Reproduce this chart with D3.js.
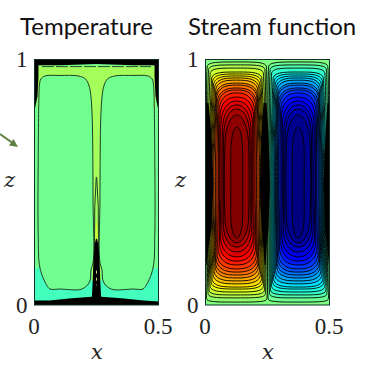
<!doctype html>
<html lang="en">
<head>
    <title>Temperature and stream function</title>
    <script src="https://d3js.org/d3.v7.min.js"></script>
    <style>
        body { margin: 0; background: #fff; }
        svg { display: block; }
    </style>
</head>
<body>
    <script>
        // Axis ticks and titles
        const xTicks = [0, 0.5];
        const zTicks = [0, 1];
        const titles = ["Temperature", "Stream function"];

        // Jet colour map
        const jetStops = [-1, -0.75, -0.25, 0, 0.25, 0.75, 1];
        const jetColors = ["#000080", "#0000ff", "#00ffff", "#80ff80", "#ffff00", "#ff0000", "#800000"];

        // Stream function contours, outermost to innermost
        const psiLevels = [0.04, 0.09, 0.15, 0.2, 0.26, 0.31, 0.37, 0.42, 0.48, 0.53, 0.59, 0.64, 0.7, 0.75, 0.81, 0.86, 0.92, 0.97, 1];
        const psiTop = [0.990, 0.978, 0.965, 0.949, 0.941, 0.933, 0.925, 0.916, 0.904, 0.896, 0.884, 0.876, 0.864, 0.847, 0.831, 0.815, 0.798, 0.774, 0.725];
        const psiBottom = [0.012, 0.029, 0.041, 0.053, 0.065, 0.073, 0.086, 0.098, 0.110, 0.122, 0.134, 0.147, 0.163, 0.179, 0.196, 0.216, 0.236, 0.253, 0.273];
        const psiWaistLeft = [0.122, 0.119, 0.116, 0.112, 0.109, 0.106, 0.103, 0.100, 0.096, 0.092, 0.086, 0.080, 0.074, 0.069, 0.064, 0.059, 0.054, 0.050, 0.024];
        const psiWaistRight = [0.122, 0.118, 0.114, 0.110, 0.106, 0.102, 0.098, 0.095, 0.092, 0.088, 0.084, 0.080, 0.074, 0.069, 0.064, 0.059, 0.054, 0.050, 0.024];
        const psiWidthTop = [0.120, 0.114, 0.108, 0.102, 0.098, 0.094, 0.090, 0.086, 0.084, 0.082, 0.080, 0.076, 0.072, 0.068, 0.064, 0.058, 0.053, 0.048, 0.024];
        const psiWidthBottom = [0.122, 0.116, 0.112, 0.108, 0.104, 0.100, 0.096, 0.092, 0.088, 0.086, 0.084, 0.080, 0.076, 0.070, 0.066, 0.060, 0.054, 0.048, 0.024];
        const psiCapTop = [0.03, 0.03, 0.035, 0.04, 0.045, 0.05, 0.055, 0.06, 0.065, 0.07, 0.075, 0.08, 0.085, 0.09, 0.10, 0.11, 0.12, 0.13, 0.10];
        const psiCapBottom = [0.02, 0.025, 0.03, 0.035, 0.04, 0.045, 0.05, 0.055, 0.06, 0.065, 0.07, 0.075, 0.08, 0.085, 0.09, 0.095, 0.10, 0.11, 0.09];
        const psiRound = [4, 4, 4, 3.6, 3.4, 3.2, 3, 3, 2.8, 2.8, 2.6, 2.6, 2.4, 2.4, 2.2, 2.2, 2.2, 2, 2];
        const psiCentres = [0.126, 0.374];
        // Where the sides settle to the waist width between the two caps
        const psiSideSteps = [0.62, 0.5, 0.38];
        // Black strips where the contours crowd together at the waist
        const psiStripZ = [0.823, 0.70, 0.49, 0.314, 0.232, 0.163];
        const psiStripLeft = [0.012, 0.024, 0.032, 0.024, 0.012, 0.004];
        const psiStripCentre = [0.006, 0.014, 0.020, 0.014, 0.006, 0.002];
        const psiStripRight = [0.008, 0.016, 0.024, 0.018, 0.008, 0.002];

        // Temperature: main contour of the left cell (the right cell mirrors it)
        const tempCellX = [0.018, 0.020, 0.026, 0.043, 0.103, 0.176, 0.205, 0.219, 0.227, 0.233, 0.235, 0.236, 0.237, 0.228, 0.222, 0.191, 0.103, 0.063, 0.049, 0.022, 0.015, 0.015];
        const tempCellZ = [0.855, 0.896, 0.921, 0.933, 0.935, 0.933, 0.921, 0.896, 0.855, 0.754, 0.631, 0.428, 0.180, 0.143, 0.094, 0.065, 0.065, 0.065, 0.081, 0.151, 0.285, 0.600];

        // Temperature: plume under the top boundary
        const plumeX = [0.012, 0.488, 0.488, 0.27, 0.27, 0.23, 0.23, 0.012];
        const plumeZ = [0.975, 0.975, 0.80, 0.80, 0.10, 0.10, 0.80, 0.80];
        // Black boundary layers: thickness against x, half width against z
        const topLayerX = [0, 0.02, 0.1, 0.25, 0.4, 0.48, 0.5];
        const topLayerZ = [0.975, 0.977, 0.977, 0.982, 0.977, 0.977, 0.975];
        const sideLayerZ = [1, 0.93, 0.85, 0.80];
        const sideLayerW = [0.016, 0.016, 0.012, 0.002];
        const bottomLayerX = [0, 0.06, 0.15, 0.23, 0.27, 0.35, 0.44, 0.5];
        const bottomLayerZ = [0.018, 0.018, 0.028, 0.034, 0.034, 0.028, 0.018, 0.014];
        const stemZ = [0.27, 0.24, 0.163, 0.082, 0.041, 0];
        const stemW = [0.002, 0.009, 0.013, 0.016, 0.018, 0.020];
        // Thin contours inside the stem
        const coreZ = [0.52, 0.40, 0.24];
        const coreW = [0.001, 0.007, 0.008];
        const tipZ = [0.34, 0.30, 0.24];
        const tipW = [0.001, 0.004, 0.005];

        // Temperature field values shown through the jet colours
        const tempBulk = -0.03;
        const tempPlume = 0.07;
        const tempRim = -0.12;
        const tempTip = 0.17;

        const jet = d3.scaleLinear().domain(jetStops).range(jetColors);

        const svg = d3.select("body").append("svg")
            .attr("width", 375)
            .attr("height", 374);

        const plotW = 124;
        const plotH = 245.5;
        const tickFace = "'Liberation Serif'";
        const letterFace = "'DejaVu Serif'";

        function drawAxes(g, x, z) {
            g.append("g")
                .attr("transform", "translate(0," + plotH + ")")
                .call(d3.axisBottom(x).tickValues(xTicks).tickSize(0).tickPadding(13).tickFormat(d3.format("")))
                .call(a => a.select(".domain").remove())
                .call(a => a.selectAll("text").attr("dx", -1).style("font-family", tickFace).style("font-size", "23px").attr("fill", "#222"));
            g.append("g")
                .call(d3.axisLeft(z).tickValues(zTicks).tickSize(0).tickPadding(7).tickFormat(d3.format("")))
                .call(a => a.select(".domain").remove())
                .call(a => a.selectAll("text").style("font-family", tickFace).style("font-size", "23px").attr("fill", "#222"));
            g.append("text")
                .attr("x", plotW / 2 + 0.5)
                .attr("y", plotH + 54)
                .attr("text-anchor", "middle")
                .style("font-family", letterFace)
                .style("font-style", "italic")
                .style("font-size", "21px")
                .attr("fill", "#222")
                .text("x");
            g.append("text")
                .attr("x", -25)
                .attr("y", 127)
                .attr("text-anchor", "middle")
                .style("font-family", letterFace)
                .style("font-style", "italic")
                .style("font-size", "21px")
                .attr("fill", "#222")
                .text("z");
        }

        // Temperature panel
        const left = svg.append("g").attr("transform", "translate(34.5,59.5)");
        const xL = d3.scaleLinear().domain(xTicks).range([0, plotW]);
        const zL = d3.scaleLinear().domain(zTicks).range([plotH, 0]);

        left.append("rect").attr("width", plotW).attr("height", plotH).attr("fill", jet(tempBulk));
        left.append("rect")
            .attr("y", zL(0.15)).attr("width", plotW).attr("height", zL(0) - zL(0.15))
            .attr("fill", jet(tempRim));

        const polyL = d3.line().x(d => xL(d[0])).y(d => zL(d[1]));
        left.append("path")
            .attr("d", polyL(d3.zip(plumeX, plumeZ)) + "Z")
            .attr("fill", jet(tempPlume));

        const cellLine = d3.line().x(d => xL(d[0])).y(d => zL(d[1])).curve(d3.curveCatmullRomClosed);
        const cellLeft = d3.zip(tempCellX, tempCellZ);
        const cellRight = cellLeft.map(d => [0.5 - d[0], d[1]]);
        [cellLeft, cellRight].forEach(c => {
            left.append("path")
                .attr("d", cellLine(c))
                .attr("fill", jet(tempBulk))
                .attr("stroke", "#1f3d25")
                .attr("stroke-width", 1);
        });

        // Black layers where the contours crowd together
        const topArea = d3.area().x(d => xL(d[0])).y0(zL(1)).y1(d => zL(d[1]));
        left.append("path").attr("d", topArea(d3.zip(topLayerX, topLayerZ))).attr("fill", "#000");
        const bottomArea = d3.area().x(d => xL(d[0])).y0(zL(0)).y1(d => zL(d[1]));
        left.append("path").attr("d", bottomArea(d3.zip(bottomLayerX, bottomLayerZ))).attr("fill", "#000");

        const sideLeft = d3.area().y(d => zL(d[0])).x0(xL(0)).x1(d => xL(d[1]));
        const sideRight = d3.area().y(d => zL(d[0])).x0(xL(0.5)).x1(d => xL(0.5 - d[1]));
        left.append("path").attr("d", sideLeft(d3.zip(sideLayerZ, sideLayerW))).attr("fill", "#000");
        left.append("path").attr("d", sideRight(d3.zip(sideLayerZ, sideLayerW))).attr("fill", "#000");

        const stemArea = d3.area().y(d => zL(d[0])).x0(d => xL(0.25 - d[1])).x1(d => xL(0.25 + d[1]));
        left.append("path")
            .attr("d", stemArea(d3.zip(coreZ, coreW)))
            .attr("fill", jet(tempPlume))
            .attr("stroke", "#1f3d25")
            .attr("stroke-width", 1);
        left.append("path")
            .attr("d", stemArea(d3.zip(tipZ, tipW)))
            .attr("fill", jet(tempTip));
        left.append("path").attr("d", stemArea(d3.zip(stemZ, stemW))).attr("fill", "#000");

        // Pale dashes left inside the black layers
        left.append("path")
            .attr("d", d3.line().x(d => xL(d)).y(zL(0.971))([0.03, 0.47]))
            .attr("stroke", "#1f4a3a")
            .attr("stroke-width", 1)
            .attr("stroke-dasharray", "12 2")
            .attr("fill", "none");
        left.append("path")
            .attr("d", d3.line().x(xL(0.25)).y(d => zL(d))([0.14, 0.08]))
            .attr("stroke", "#c8e070")
            .attr("stroke-width", 1)
            .attr("stroke-dasharray", "3 4")
            .attr("fill", "none");

        left.append("rect")
            .attr("width", plotW).attr("height", plotH)
            .attr("fill", "none")
            .attr("stroke", "#10302a")
            .attr("stroke-width", 1);

        drawAxes(left, xL, zL);

        // Stream function panel
        const right = svg.append("g").attr("transform", "translate(205.5,59.5)");
        const xR = d3.scaleLinear().domain(xTicks).range([0, plotW]);
        const zR = d3.scaleLinear().domain(zTicks).range([plotH, 0]);

        right.append("rect").attr("width", plotW).attr("height", plotH).attr("fill", jet(0));

        const psiLine = d3.line().x(d => xR(d[0])).y(d => zR(d[1])).curve(d3.curveCatmullRomClosed);
        const capAngles = d3.range(0, 181, 15).map(a => a * Math.PI / 180);
        const pow = (v, n) => Math.sign(v) * Math.pow(Math.abs(v), 2 / n);

        function psiOutline(cx, waist, k) {
            const pts = [];
            const n = psiRound[k];
            const zUp = psiTop[k] - psiCapTop[k];
            const zDown = psiBottom[k] + psiCapBottom[k];
            capAngles.forEach(a => {
                pts.push([cx + psiWidthTop[k] * pow(Math.cos(a), n), zUp + psiCapTop[k] * pow(Math.sin(a), n)]);
            });
            psiSideSteps.forEach(s => {
                pts.push([cx - waist[k], zDown + s * (zUp - zDown)]);
            });
            capAngles.forEach(a => {
                pts.push([cx - psiWidthBottom[k] * pow(Math.cos(a), n), zDown - psiCapBottom[k] * pow(Math.sin(a), n)]);
            });
            psiSideSteps.slice().reverse().forEach(s => {
                pts.push([cx + waist[k], zDown + s * (zUp - zDown)]);
            });
            return pts;
        }

        psiCentres.forEach((cx, c) => {
            const sign = c === 0 ? 1 : -1;
            const waist = c === 0 ? psiWaistLeft : psiWaistRight;
            psiLevels.forEach((v, k) => {
                right.append("path")
                    .attr("d", psiLine(psiOutline(cx, waist, k)))
                    .attr("fill", jet(sign * v))
                    .attr("stroke", "#000")
                    .attr("stroke-width", 0.9);
            });
        });

        // Black strips over the crowded contours
        const stripLeft = d3.area().y(d => zR(d[0])).x0(xR(0)).x1(d => xR(d[1]));
        const stripRight = d3.area().y(d => zR(d[0])).x0(xR(0.5)).x1(d => xR(0.5 - d[1]));
        const stripCentre = d3.area().y(d => zR(d[0])).x0(d => xR(0.24 - d[1])).x1(d => xR(0.24 + d[1]));
        right.append("path").attr("d", stripLeft(d3.zip(psiStripZ, psiStripLeft))).attr("fill", "#000");
        right.append("path").attr("d", stripRight(d3.zip(psiStripZ, psiStripRight))).attr("fill", "#000");
        right.append("path").attr("d", stripCentre(d3.zip(psiStripZ, psiStripCentre))).attr("fill", "#000");

        right.append("rect")
            .attr("width", plotW).attr("height", plotH)
            .attr("fill", "none")
            .attr("stroke", "#10302a")
            .attr("stroke-width", 1);

        drawAxes(right, xR, zR);

        // Panel titles
        svg.selectAll(".panel-title")
            .data(titles)
            .enter()
            .append("text")
            .attr("class", "panel-title")
            .attr("x", (d, i) => i === 0 ? 20 : 188)
            .attr("y", 34.5)
            .attr("font-family", "Lato")
            .attr("font-size", 24)
            .attr("fill", "#111")
            .text(d => d);

        // Arrow coming in from the left edge
        svg.append("path")
            .attr("d", "M0,134L14,144")
            .attr("stroke", "#5f8040")
            .attr("stroke-width", 2)
            .attr("fill", "none");
        svg.append("path")
            .attr("d", "M18,147L9,145.5L13.5,139Z")
            .attr("fill", "#5f8040");
    </script>
</body>
</html>
